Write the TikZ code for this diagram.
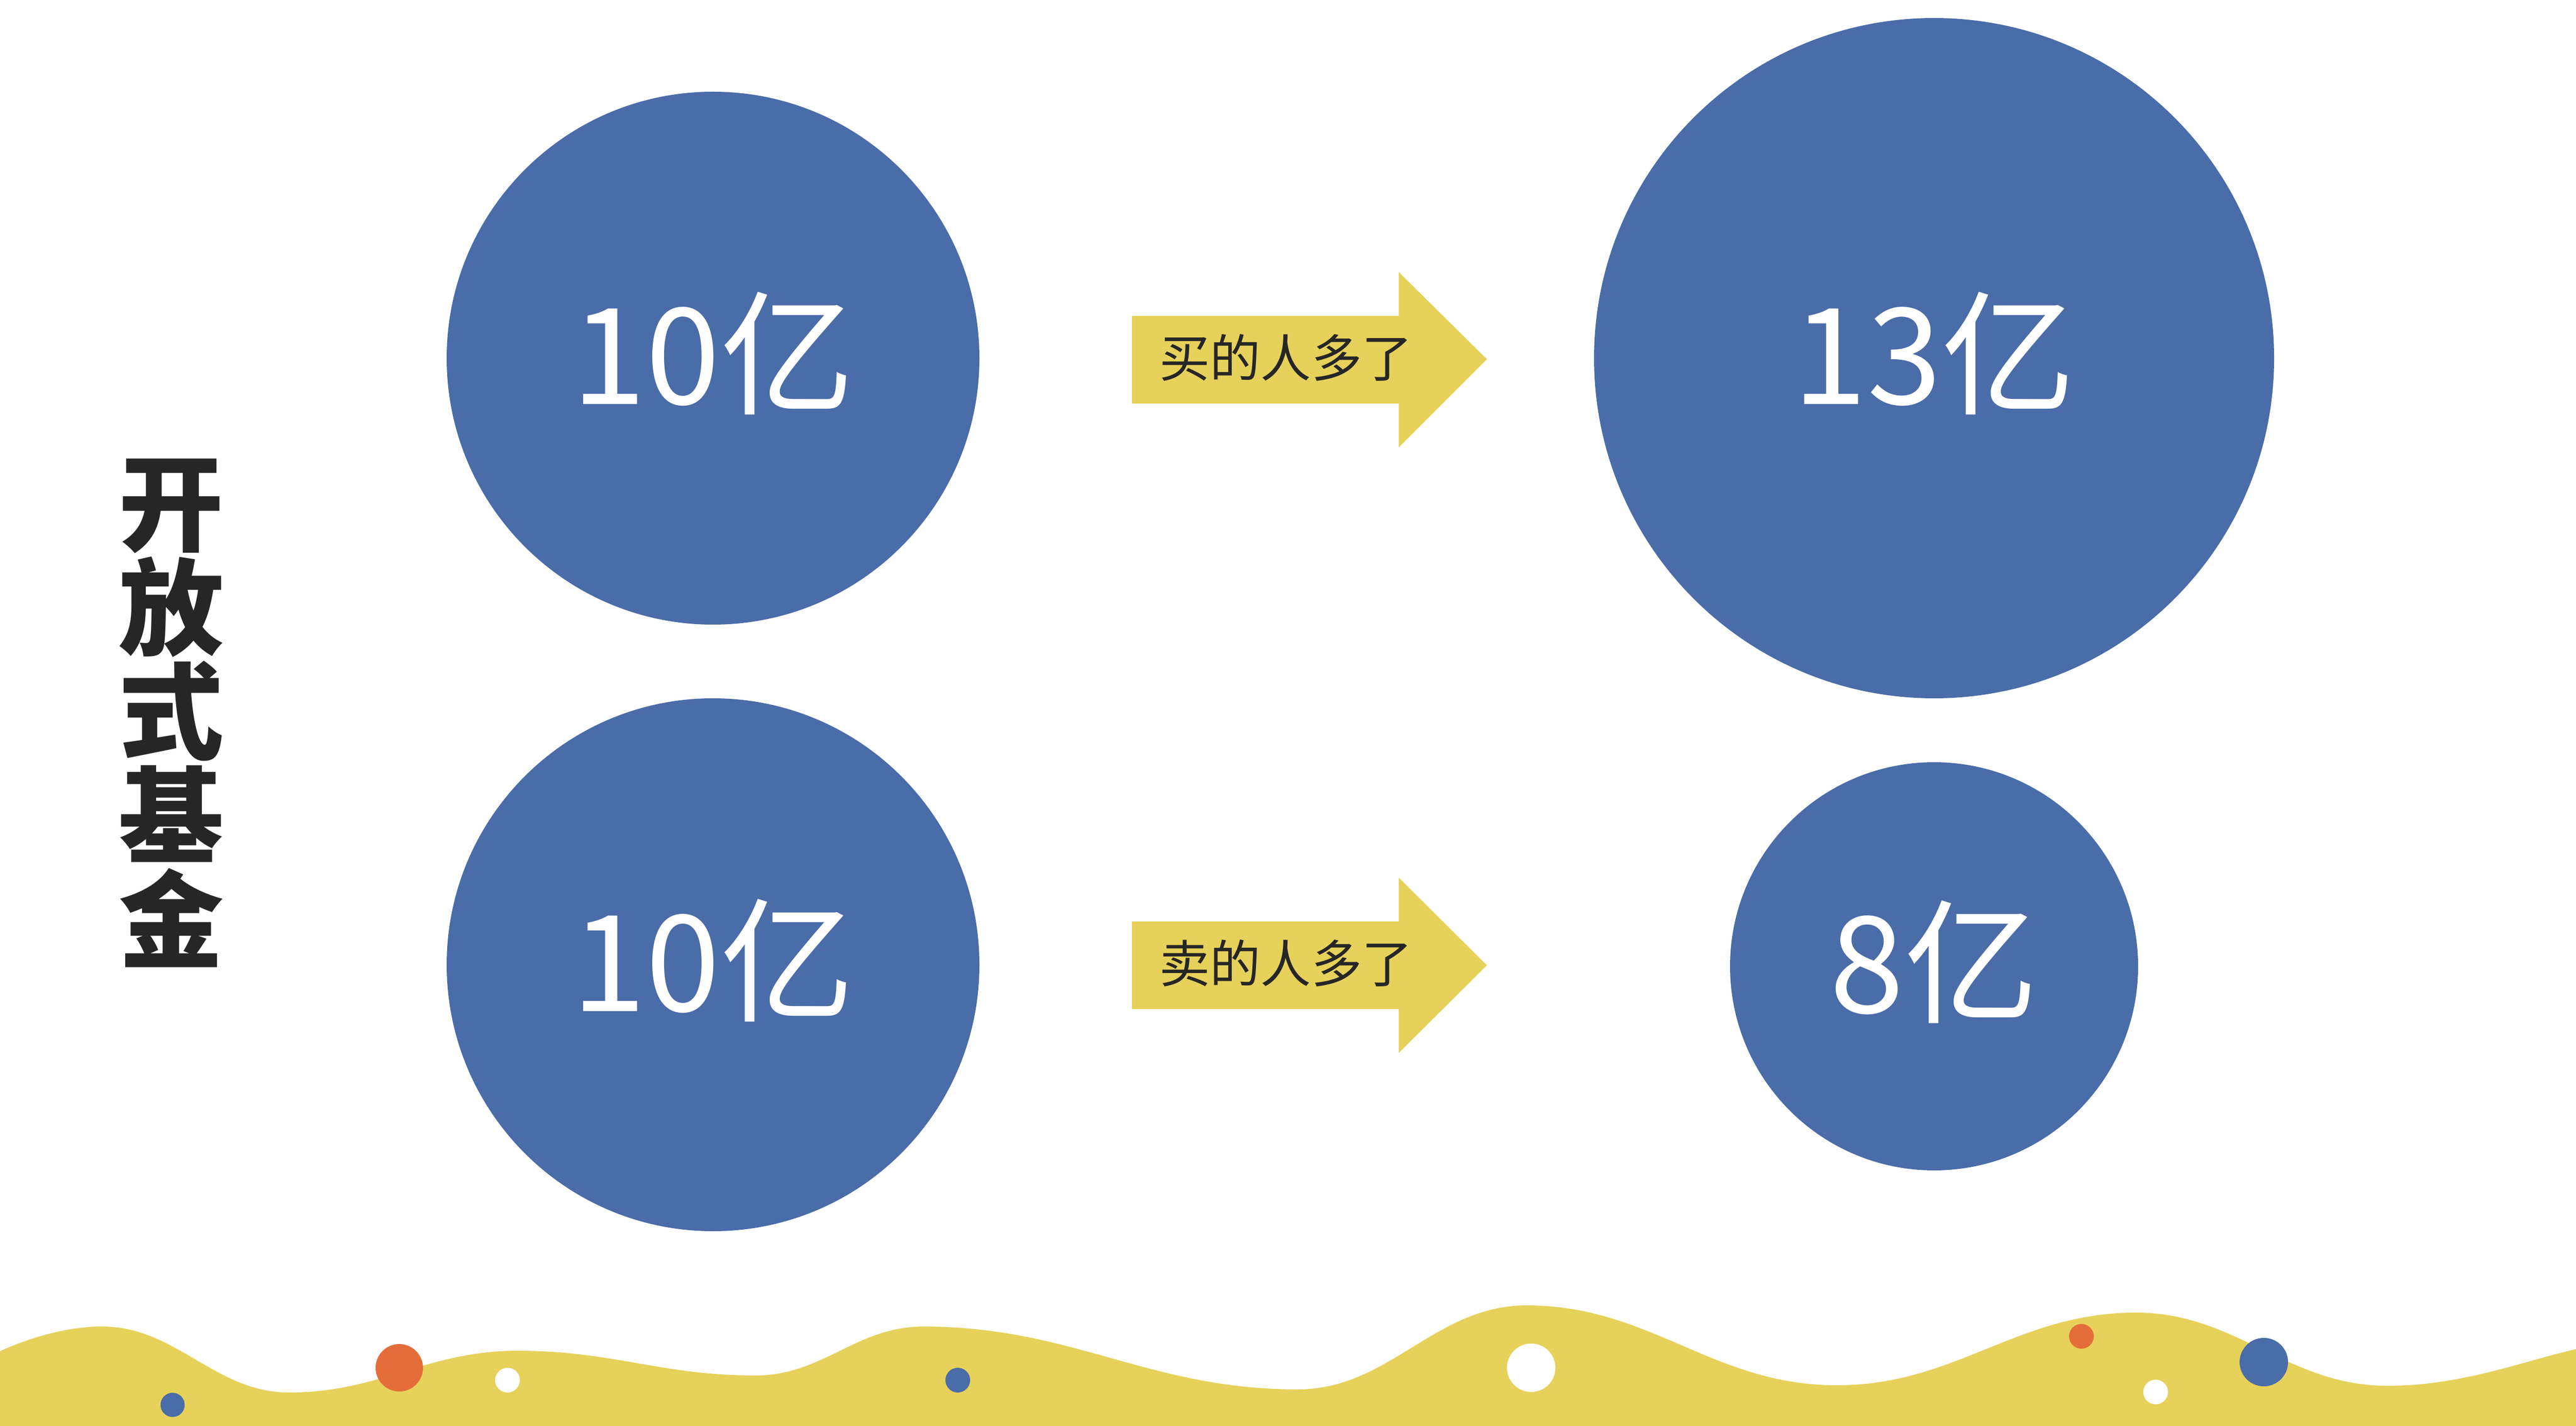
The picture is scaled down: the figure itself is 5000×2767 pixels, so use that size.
\documentclass[tikz,border=0pt]{standalone}
\usepackage{fontspec}
\newfontfamily\cjk{Noto Sans CJK SC}
\definecolor{fundblue}{HTML}{4A6CA8}
\definecolor{fundyellow}{HTML}{E6D15A}
\definecolor{fundorange}{HTML}{E56D3A}
\definecolor{textdark}{HTML}{262626}

\begin{document}
\begin{tikzpicture}[x=0.1mm, y=-0.1mm,
  bubble/.style={circle, fill=fundblue, text=white, inner sep=0pt,
    text height=21.6mm, text depth=3.6mm,
    font=\cjk\fontsize{74}{74}\selectfont},
  arrowlabel/.style={text=textdark, inner sep=0pt,
    font=\cjk\fontsize{28}{28}\selectfont}]

  \useasboundingbox[fill=white] (0,0) rectangle (5000,2767);

  % title
  \node[text=textdark, inner sep=0pt, align=center,
    font=\cjk\bfseries\fontsize{58}{57.5}\selectfont] (title) at (332,1384)
    {开\\放\\式\\基\\金};

  % bubbles
  \node[bubble, minimum size=103.4mm] (buyBefore) at (1384,695) {10亿};
  \node[bubble, minimum size=132mm] (buyAfter) at (3754,695) {13亿};
  \node[bubble, minimum size=103.4mm] (sellBefore) at (1384,1872) {10亿};
  \node[bubble, minimum size=79.2mm] (sellAfter) at (3754,1875) {8亿};

  % arrows
  \fill[fundyellow] (2197,613) -- (2715,613) -- (2715,528) -- (2886,697)
    -- (2715,868) -- (2715,783) -- (2197,783) -- cycle;
  \node[arrowlabel] (buyMore) at (2496,694) {买的人多了};

  \fill[fundyellow] (2197,1788) -- (2715,1788) -- (2715,1703) -- (2886,1873)
    -- (2715,2043) -- (2715,1958) -- (2197,1958) -- cycle;
  \node[arrowlabel] (sellMore) at (2496,1869) {卖的人多了};

  % wave
  \fill[fundyellow] (0,2622)
    .. controls (70,2590) and (140,2574) .. (198,2574)
    .. controls (343,2574) and (416,2702) .. (561,2702)
    .. controls (739,2702) and (827,2621) .. (1005,2621)
    .. controls (1190,2621) and (1282,2669) .. (1467,2669)
    .. controls (1597,2669) and (1662,2574) .. (1792,2574)
    .. controls (2083,2574) and (2228,2696) .. (2519,2696)
    .. controls (2697,2696) and (2785,2533) .. (2963,2533)
    .. controls (3204,2533) and (3324,2688) .. (3565,2688)
    .. controls (3797,2688) and (3914,2547) .. (4146,2547)
    .. controls (4341,2547) and (4439,2689) .. (4634,2689)
    .. controls (4780,2689) and (4900,2640) .. (5000,2618)
    -- (5000,2767) -- (0,2767) -- cycle;

  % dots
  \fill[fundblue] (335,2726) circle (2.35mm);
  \fill[fundorange] (775,2654) circle (4.6mm);
  \fill[white] (985,2678) circle (2.4mm);
  \fill[fundblue] (1859,2678) circle (2.4mm);
  \fill[white] (2972,2654) circle (4.7mm);
  \fill[fundorange] (4040,2593) circle (2.4mm);
  \fill[white] (4184,2701) circle (2.4mm);
  \fill[fundblue] (4394,2643) circle (4.7mm);

\end{tikzpicture}
\end{document}
